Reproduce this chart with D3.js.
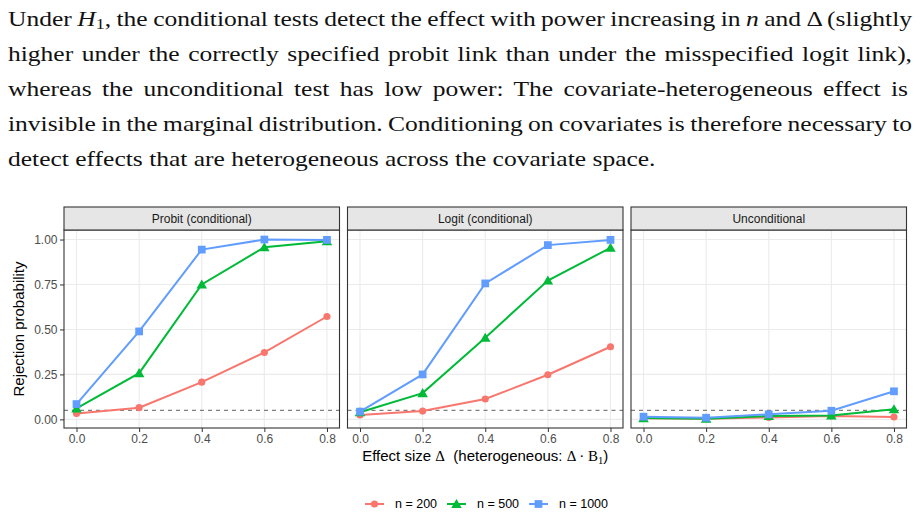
<!DOCTYPE html>
<html>
<head>
<meta charset="utf-8">
<title>Rejection probability under H1</title>
<script src="https://d3js.org/d3.v7.min.js"></script>
<style>
  body { margin: 0; background: #fff; }
  svg { display: block; }
  .para { font-family: "Liberation Serif", "DejaVu Serif", serif; font-size: 22px; fill: #111; }
  .chart text { font-family: "Liberation Sans", Arial, sans-serif; }
  .axis path { display: none; }
  .axis line { stroke: #333; }
  .axis text { fill: #4d4d4d; font-size: 12px; }
</style>
</head>
<body>
<svg id="fig" width="922" height="516"></svg>
<script>
// ---- data ----
const deltas = [0, 0.2, 0.4, 0.6, 0.8];
const panelNames = ["Probit (conditional)", "Logit (conditional)", "Unconditional"];
const sizeLabels = ["n = 200", "n = 500", "n = 1000"];
const sizeColors = ["#F8766D", "#00BA38", "#619CFF"];
const sizeShapes = ["circle", "triangle", "square"];

const probit200  = [0.033, 0.065, 0.207, 0.372, 0.572];
const probit500  = [0.061, 0.257, 0.750, 0.957, 0.991];
const probit1000 = [0.085, 0.489, 0.944, 1.000, 0.998];

const logit200  = [0.024, 0.046, 0.113, 0.248, 0.404];
const logit500  = [0.040, 0.146, 0.454, 0.772, 0.954];
const logit1000 = [0.043, 0.250, 0.756, 0.969, 0.998];

const uncond200  = [0.006, 0.004, 0.011, 0.019, 0.013];
const uncond500  = [0.007, 0.004, 0.019, 0.022, 0.056];
const uncond1000 = [0.015, 0.009, 0.028, 0.048, 0.156];

const alphaLevel = 0.05;
const yTicks = [0, 0.25, 0.5, 0.75, 1];
const xTicks = [0, 0.2, 0.4, 0.6, 0.8];

const panelSeries = [
  [probit200, probit500, probit1000],
  [logit200, logit500, logit1000],
  [uncond200, uncond500, uncond1000]
];

// paragraph lines: [text, style] segments; last line is not justified
const paraLines = [
  [["Under ", ""], ["H", "i"], ["1", "sub"], [", the conditional tests detect the effect with power increasing in ", ""], ["n", "i"], [" and \u0394 (slightly", ""]],
  [["higher under the correctly specified probit link than under the misspecified logit link),", ""]],
  [["whereas the unconditional test has low power:  The covariate-heterogeneous effect is", ""]],
  [["invisible in the marginal distribution. Conditioning on covariates is therefore necessary to", ""]],
  [["detect effects that are heterogeneous across the covariate space.", ""]]
];

const svg = d3.select("#fig");

// ---- paragraph (Times glyphs stretched a bit to get the Computer Modern width) ----
const paraLeft = 8, paraRight = 912, lineTop = 25.5, lineStep = 35.2, stretch = 1.16;
paraLines.forEach((segs, i) => {
  const t = svg.append("text").attr("class", "para")
    .attr("transform", `translate(${paraLeft},${lineTop + i * lineStep}) scale(${stretch},1)`);
  segs.forEach(([s, st], k) => {
    const sp = t.append("tspan").text(s);
    if (st === "i") sp.attr("font-style", "italic");
    if (st === "sub") sp.attr("font-size", "15.5px").attr("dy", 3.5);
    if (k > 0 && segs[k - 1][1] === "sub") sp.attr("dy", -3.5);
  });
  if (i < paraLines.length - 1) {
    const natural = t.node().getComputedTextLength();
    const spaces = segs.map(s => s[0]).join("").split(" ").length - 1;
    t.attr("word-spacing", ((paraRight - paraLeft) / stretch - natural) / spaces);
  }
});

// ---- facet chart ----
const chart = svg.append("g").attr("class", "chart");
const panelLeft = 64, panelW = 275.5, panelGap = 8;
const stripTop = 207, panelTop = 230, panelBottom = 428;
const panelH = panelBottom - panelTop;

const x = d3.scaleLinear().domain([-0.04, 0.84]).range([0, panelW]);
const y = d3.scaleLinear().domain([-0.048, 1.053]).range([panelH, 0]);

const symbolFor = {
  circle: d3.symbol().type(d3.symbolCircle).size(40),
  triangle: d3.symbol().type(d3.symbolTriangle).size(48),
  square: d3.symbol().type(d3.symbolSquare).size(60)
};

const line = d3.line().x(d => x(d[0])).y(d => y(d[1]));

panelNames.forEach((name, p) => {
  const px = panelLeft + p * (panelW + panelGap);
  const g = chart.append("g").attr("transform", `translate(${px},${panelTop})`);

  // background + grid
  g.append("rect").attr("width", panelW).attr("height", panelH).attr("fill", "#fff");
  g.selectAll(".gy").data(yTicks).join("line")
    .attr("x1", 0).attr("x2", panelW)
    .attr("y1", d => y(d)).attr("y2", d => y(d))
    .attr("stroke", "#ebebeb").attr("stroke-width", 1.1);
  g.selectAll(".gx").data(xTicks).join("line")
    .attr("y1", 0).attr("y2", panelH)
    .attr("x1", d => x(d)).attr("x2", d => x(d))
    .attr("stroke", "#ebebeb").attr("stroke-width", 1.1);

  // reference level
  g.append("line")
    .attr("x1", 0).attr("x2", panelW)
    .attr("y1", y(alphaLevel)).attr("y2", y(alphaLevel))
    .attr("stroke", "#7f7f7f").attr("stroke-width", 1.2)
    .attr("stroke-dasharray", "4,4");

  // series
  panelSeries[p].forEach((vals, s) => {
    const pts = deltas.map((d, k) => [d, vals[k]]);
    g.append("path").datum(pts)
      .attr("fill", "none").attr("stroke", sizeColors[s]).attr("stroke-width", 2)
      .attr("d", line);
    g.selectAll(".pt" + s).data(pts).join("path")
      .attr("transform", d => `translate(${x(d[0])},${y(d[1]) + (sizeShapes[s] === "triangle" ? 1 : 0)})`)
      .attr("d", symbolFor[sizeShapes[s]]())
      .attr("fill", sizeColors[s]);
  });

  // border
  g.append("rect").attr("width", panelW).attr("height", panelH)
    .attr("fill", "none").attr("stroke", "#333").attr("stroke-width", 1.1);

  // strip
  chart.append("rect")
    .attr("x", px).attr("y", stripTop).attr("width", panelW).attr("height", panelTop - stripTop)
    .attr("fill", "#e6e6e6").attr("stroke", "#333").attr("stroke-width", 1.1);
  chart.append("text")
    .attr("x", px + panelW / 2).attr("y", (stripTop + panelTop) / 2)
    .attr("dy", "0.35em").attr("text-anchor", "middle")
    .attr("font-size", "12px").attr("fill", "#1a1a1a")
    .text(name);

  // x axis
  g.append("g").attr("class", "axis")
    .attr("transform", `translate(0,${panelH})`)
    .call(d3.axisBottom(x).tickValues(xTicks).tickFormat(d3.format(".1f")).tickSize(4).tickPadding(2.5));

  // y axis only on first panel
  if (p === 0) {
    g.append("g").attr("class", "axis")
      .call(d3.axisLeft(y).tickValues(yTicks).tickFormat(d3.format(".2f")).tickSize(4).tickPadding(2.5));
  }
});

// axis titles
const chartMid = panelLeft + (3 * panelW + 2 * panelGap) / 2;
chart.append("text")
  .attr("transform", `translate(24,${panelTop + panelH / 2}) rotate(-90)`)
  .attr("text-anchor", "middle").attr("font-size", "15px").attr("fill", "#000")
  .text("Rejection probability");

const xt = chart.append("text")
  .attr("x", chartMid).attr("y", 461)
  .attr("text-anchor", "middle").attr("font-size", "15px").attr("fill", "#000");
xt.append("tspan").text("Effect size ");
xt.append("tspan").attr("font-family", "Liberation Serif, serif").text("\u0394");
xt.append("tspan").text("\u00a0 (heterogeneous: ");
xt.append("tspan").attr("font-family", "Liberation Serif, serif").text("\u0394 \u00b7 B");
xt.append("tspan").attr("font-family", "Liberation Serif, serif").attr("font-size", "10.5px").attr("dy", 3).text("1");
xt.append("tspan").attr("dy", -3).text(")");

// legend
const legendY = 504;
const legendX = [365, 447, 529];
sizeLabels.forEach((lab, s) => {
  const lg = chart.append("g").attr("transform", `translate(${legendX[s]},${legendY})`);
  lg.append("line").attr("x1", 0).attr("x2", 19)
    .attr("stroke", sizeColors[s]).attr("stroke-width", 2);
  lg.append("path").attr("transform", "translate(9.5," + (sizeShapes[s] === "triangle" ? 1 : 0) + ")")
    .attr("d", symbolFor[sizeShapes[s]]())
    .attr("fill", sizeColors[s]);
  lg.append("text").attr("x", 30).attr("dy", "0.35em")
    .attr("font-size", "12.5px").attr("fill", "#000").text(lab);
});
</script>
</body>
</html>
